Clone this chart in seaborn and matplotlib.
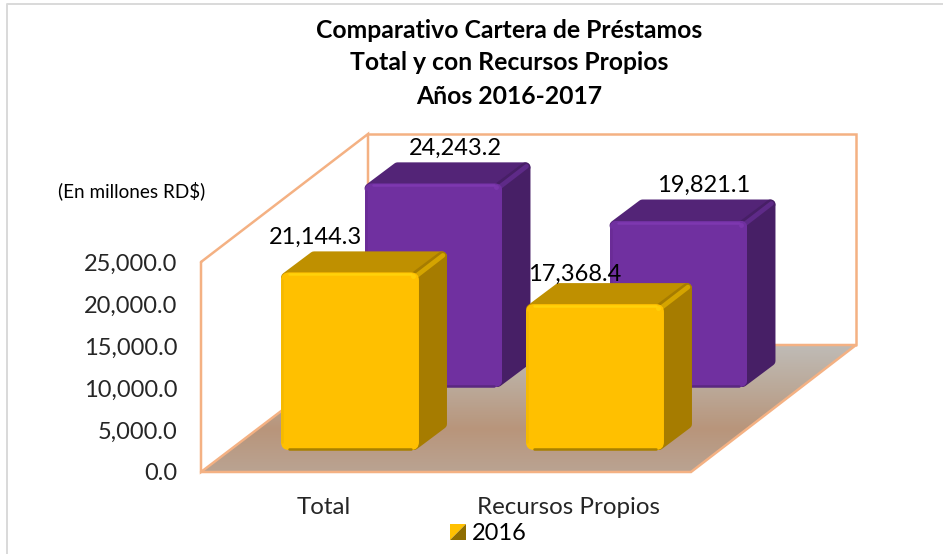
import numpy as np
import matplotlib
matplotlib.use('Agg')
import matplotlib.pyplot as plt
import seaborn as sns
from matplotlib.colors import LinearSegmentedColormap
from matplotlib.patches import FancyBboxPatch, Polygon

categories = ['Total', 'Recursos Propios']
values_2016 = [21144.3, 17368.4]
values_2017 = [24243.2, 19821.1]
y_ticks = [0, 5000, 10000, 15000, 20000, 25000]
title_lines = ['Comparativo Cartera de Préstamos', 'Total y con Recursos Propios', 'Años 2016-2017']

W, H = 943, 554
WALL = '#F4B183'

sns.set_style('white')
plt.rcParams['font.family'] = ['Lato', 'DejaVu Sans']

fig = plt.figure(figsize=(W / 100, H / 100), dpi=100)


def axes_px(left, right, top, bottom, zorder):
    # axes placed in image pixels, y counted from the top
    a = fig.add_axes([left / W, 1 - bottom / H, (right - left) / W, (bottom - top) / H], zorder=zorder)
    a.patch.set_visible(False)
    return a


# overlay in plain pixels for the room, title and legend
room = axes_px(0, W, 0, H, 0)
room.set_axis_off()

floor = [(201, 472), (691, 472), (856, 345), (368, 345)]
grad = LinearSegmentedColormap.from_list('floor', ['#BFBBB6', '#BBA999', '#B8957B', '#BAA392'])
img = room.imshow(np.linspace(0, 1, 128).reshape(-1, 1), cmap=grad, aspect='auto', extent=(201, 856, 472, 345))
img.set_clip_path(Polygon(floor, transform=room.transData))
room.set_xlim(0, W)
room.set_ylim(H, 0)

for pts in [[(201, 262), (368, 134), (368, 345), (201, 472), (201, 262)],
            [(368, 134), (856, 134), (856, 345)],
            [(201, 472), (691, 472), (856, 345), (368, 345)]]:
    room.plot(*zip(*pts), color=WALL, lw=1.8, solid_joinstyle='miter')

# chart frame
room.plot([7, 7, W], [H, 3.5, 3.5], color='#D9D9D9', lw=1.4)

for line, y in zip(title_lines, [30, 63, 96]):
    room.text(509, y, line, ha='center', va='center', fontsize=17.8, fontweight='bold', color='black')
room.text(132, 191, '(En millones RD$)', ha='center', va='center', fontsize=13.6, color='black')

# legend swatch
room.fill([450, 466, 450], [524, 524, 540], color='#FFC000', lw=0)
room.fill([466, 466, 450], [524, 540, 540], color='#8F6D00', lw=0)
room.text(472, 533, '2016', ha='left', va='center', fontsize=17, color='black')


def style_value_axes(a):
    a.set_xlim(-0.5, 1.5)
    a.set_ylim(0, 25000)


# axes holding the tick labels, on the front edge of the floor
base = axes_px(201, 691, 262, 472, 1)
style_value_axes(base)
base.set_xticks([0, 1], categories)
base.set_yticks(y_ticks, [f'{t:,.1f}' for t in y_ticks])
base.tick_params(axis='x', length=0, pad=18, labelsize=17.4)
base.tick_params(axis='y', length=0, pad=17, labelsize=17)
sns.despine(ax=base, left=True, bottom=True)

PX_X = 1 / 245
PX_Y = 25000 / 210
DX = 28 * PX_X
DY = 21 * PX_Y
IN_X = 5 * PX_X
IN_Y = 5 * PX_Y


def draw_blocks(a, values, face, top, side, hi, lo, left, edge, offsets):
    sns.barplot(x=categories, y=values, color=face, saturation=1, width=0.563, ax=a)
    style_value_axes(a)
    a.set_axis_off()
    for bar, v, off in zip(a.patches, values, offsets):
        x0, w = bar.get_x(), bar.get_width()
        x1 = x0 + w
        bar.set_linewidth(0)
        bar.set_zorder(3)
        # rounded front face
        clip = FancyBboxPatch((x0, 0), w, v, boxstyle=f'round,pad=0,rounding_size={8 * PX_X}',
                              mutation_aspect=PX_Y / PX_X, transform=a.transData)
        bar.set_clip_path(clip)
        kw = dict(clip_on=False, joinstyle='round', lw=7.2, zorder=2)
        a.fill([x0 + IN_X, x1 - IN_X, x1 + DX - IN_X, x0 + DX + IN_X],
               [v - IN_Y, v - IN_Y, v + DY - IN_Y, v + DY - IN_Y], fc=top, ec=top, **kw)
        a.fill([x1 - IN_X, x1 + DX - IN_X, x1 + DX - IN_X, x1 - IN_X],
               [IN_Y, DY + IN_Y, v + DY - IN_Y, v - IN_Y], fc=side, ec=side, **kw)
        # bevels
        rim = dict(clip_on=False, lw=1.8, solid_capstyle='round', zorder=4)
        a.plot([x0 + 8 * PX_X, x1 - 8 * PX_X], [v - 2 * PX_Y, v - 2 * PX_Y], color=hi, **rim)
        a.plot([x0 + 8 * PX_X, x1 - 8 * PX_X], [1.4 * PX_Y, 1.4 * PX_Y], color=lo, **rim)
        a.plot([x0 + 1.2 * PX_X, x0 + 1.2 * PX_X], [8 * PX_Y, v - 8 * PX_Y], color=left, **rim)
        a.plot([x1 - 6 * PX_X], [v - 4 * PX_Y], 'o', ms=3.5, mew=0, color=hi, clip_on=False, zorder=4.5, alpha=0.8)
        a.plot([x1 - 2 * PX_X, x1 + DX - 4 * PX_X], [v - 3 * PX_Y, v + DY - 4 * PX_Y], color=edge, lw=3.4,
               clip_on=False, solid_capstyle='round', zorder=2.5)
        a.annotate(f'{v:,.1f}', (x0 + w / 2, v), xytext=off, textcoords='offset pixels',
                   ha='center', va='center', fontsize=17, color='black', annotation_clip=False, zorder=5)


# back row is the same axes pushed into the room
back = axes_px(311, 801, 177, 387, 2)
draw_blocks(back, values_2017, '#7030A0', '#532477', '#471F66', '#7E38B0', '#5A2880', '#6A2C96', '#5E2A88',
            [(22, 35), (25, 35)])
front = axes_px(227.5, 717.5, 240, 450, 3)
draw_blocks(front, values_2016, '#FFC000', '#BF9000', '#A67C00', '#FFD20A', '#A88000', '#F5B900', '#D4A400',
            [(-34, 35), (-20, 30)])

fig.savefig('out.png', dpi=100)
